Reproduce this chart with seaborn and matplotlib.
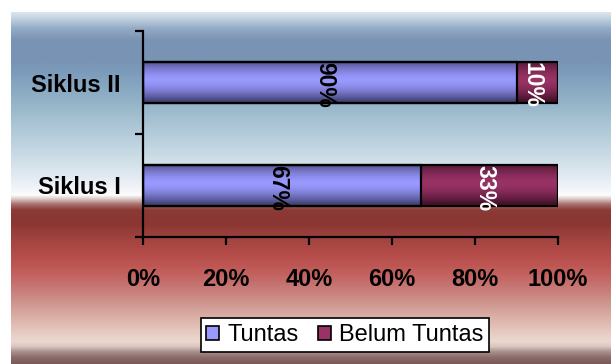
import numpy as np
import pandas as pd
import matplotlib
matplotlib.use("Agg")
import matplotlib.pyplot as plt
from matplotlib.colors import to_rgb
from matplotlib.patches import Patch
import seaborn as sns

# Data: completion share per cycle (top to bottom)
categories = ["Siklus II", "Siklus I"]
tuntas = [90, 67]
belum_tuntas = [10, 33]
series_names = ["Tuntas", "Belum Tuntas"]
xtick_values = [0, 20, 40, 60, 80, 100]
xtick_labels = ["0%", "20%", "40%", "60%", "80%", "100%"]

sns.set_theme(style="white")
plt.rcParams["font.family"] = ["Liberation Sans", "DejaVu Sans"]
plt.rcParams["text.color"] = "black"
plt.rcParams["xtick.color"] = "black"
plt.rcParams["ytick.color"] = "black"
plt.rcParams["xtick.labelcolor"] = "black"
plt.rcParams["ytick.labelcolor"] = "black"

W, H = 611, 364
fig = plt.figure(figsize=(W / 100, H / 100), dpi=100)
fig.patch.set_facecolor("white")

# Background panel with vertical colour gradient
stops = [
    (12, "#dbe5ee"), (18, "#c2d2e0"), (28, "#94abc6"), (40, "#7a93b4"),
    (58, "#7893b4"), (72, "#7c9bba"), (88, "#88a9c2"), (104, "#96b5c9"),
    (124, "#aac5d5"), (144, "#bed3df"), (162, "#d2e0e9"), (180, "#e6edf4"),
    (191, "#f6f7fa"), (195, "#fdfdfd"), (199, "#dac9c8"), (204, "#aa7472"),
    (210, "#8c3a36"), (224, "#8a3632"), (238, "#a0433f"), (252, "#b24b47"),
    (266, "#be5753"), (280, "#c46a68"), (294, "#c98480"), (307, "#d19c95"),
    (320, "#ddb4ab"), (333, "#e7cbc3"), (342, "#ecd8d0"), (347, "#d9c5bd"),
    (352, "#a99191"), (358, "#8b6b69"), (364, "#7a5a58"),
]
ys = np.arange(12, 365)
sp = np.array([s[0] for s in stops], float)
cols = np.array([to_rgb(s[1]) for s in stops])
grad = np.stack([np.interp(ys, sp, cols[:, i]) for i in range(3)], axis=1)
bg = fig.add_axes([11 / W, 0, (W - 11) / W, (H - 12) / H], zorder=-1)
bg.imshow(grad[:, None, :], aspect="auto", interpolation="bilinear")
bg.set_axis_off()

ax = fig.add_axes([143 / W, 1 - 237 / H, (558 - 143) / W, (237 - 31) / H])
ax.set_facecolor("none")

df = pd.DataFrame({"cat": categories, "Tuntas": tuntas,
                   "Belum Tuntas": belum_tuntas})
df["total"] = df["Tuntas"] + df["Belum Tuntas"]

colors = {"Tuntas": "#9999ff", "Belum Tuntas": "#993366"}
edge_dark = {"Tuntas": "#45457a", "Belum Tuntas": "#45122c"}

sns.barplot(data=df, x="total", y="cat", order=categories, orient="h",
            color=colors["Belum Tuntas"], saturation=1, width=0.4,
            edgecolor="black", linewidth=1.6, ax=ax)
n_total = len(ax.patches)
sns.barplot(data=df, x="Tuntas", y="cat", order=categories, orient="h",
            color=colors["Tuntas"], saturation=1, width=0.4,
            edgecolor="black", linewidth=1.6, ax=ax)


def bar_gradient(name):
    dark = np.array(to_rgb(edge_dark[name]))
    light = np.array(to_rgb(colors[name]))
    t = np.linspace(-1, 1, 40)
    w = np.clip(1 - np.abs(t + 0.1) ** 1.6, 0, 1)
    arr = dark[None, :] + (light - dark)[None, :] * w[:, None]
    return arr[:, None, :]


for i, p in enumerate(ax.patches):
    name = "Belum Tuntas" if i < n_total else "Tuntas"
    x0, y0, w, h = p.get_x(), p.get_y(), p.get_width(), p.get_height()
    im = ax.imshow(bar_gradient(name), extent=[x0, x0 + w, y0 + h, y0],
                   aspect="auto", interpolation="bilinear",
                   zorder=1 if name == "Belum Tuntas" else 2)
    im.set_clip_path(p)
    p.set_facecolor("none")
    p.set_zorder(4 if name == "Belum Tuntas" else 5)

ax.set_xlim(0, 100)
ax.set_ylim(1.5, -0.5)

# Value labels, rotated, centred on each segment
for yi, (t_val, b_val) in enumerate(zip(tuntas, belum_tuntas)):
    ax.annotate(f"{t_val}%", xy=(t_val / 2, yi), xytext=(-3.5, -2),
                textcoords="offset points", rotation=-90, ha="center",
                va="center", fontsize=16.5, fontweight="bold", color="black",
                zorder=6)
    ax.annotate(f"{b_val}%", xy=(t_val + b_val / 2, yi), xytext=(-3.5, -2),
                textcoords="offset points", rotation=-90, ha="center",
                va="center", fontsize=16.5, fontweight="bold", color="white",
                zorder=6)

# Axes styling
for s in ["top", "right"]:
    ax.spines[s].set_visible(False)
for s in ["left", "bottom"]:
    ax.spines[s].set_visible(True)
    ax.spines[s].set_color("black")
    ax.spines[s].set_linewidth(1.6)

ax.set_xticks(xtick_values)
ax.set_xticklabels(xtick_labels, fontsize=17, fontweight="bold",
                   color="black")
ax.tick_params(axis="x", which="major", direction="out", length=6,
               width=1.6, color="black", pad=16, bottom=True)

ax.set_yticks([-0.5, 0.5, 1.5])
ax.set_yticklabels([])
ax.set_yticks([0, 1], minor=True)
ax.set_yticklabels(categories, minor=True, fontsize=17, fontweight="bold",
                   color="black")
ax.tick_params(axis="y", which="major", direction="out", length=6,
               width=1.6, color="black", left=True)
ax.tick_params(axis="y", which="minor", length=0, pad=16, left=True)
ax.set_xlabel("")
ax.set_ylabel("")
ax.grid(False)

handles = [Patch(facecolor=colors[n], edgecolor="black", linewidth=1.2)
           for n in series_names]
leg = fig.legend(handles, series_names, loc="center",
                 bbox_to_anchor=(345 / W, 1 - 335 / H), ncol=2,
                 fontsize=17, frameon=True, fancybox=False,
                 handlelength=0.55, handleheight=0.55, handletextpad=0.35,
                 columnspacing=0.8, borderpad=0.25, borderaxespad=0)
for txt in leg.get_texts():
    txt.set_color("black")
leg.get_frame().set_edgecolor("black")
leg.get_frame().set_linewidth(1.2)
leg.get_frame().set_facecolor("white")
leg.get_frame().set_alpha(1)

fig.savefig("out.png", dpi=100)
